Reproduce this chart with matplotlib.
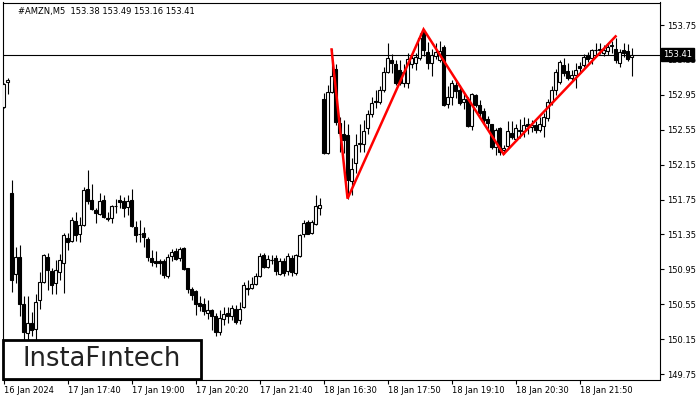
import matplotlib
matplotlib.use("Agg")
import matplotlib.pyplot as plt
from matplotlib.patches import Rectangle
import numpy as np

# OHLC of the 5 minute bars (bar index = position)
opens = [152.81, 153.10, 151.82, 150.90, 151.09, 150.55, 150.22, 150.34, 150.27, 150.60,
         150.80, 151.09, 150.93, 150.79, 150.92, 151.02, 151.31, 151.27, 151.50, 151.36,
         151.46, 151.87, 151.75, 151.63, 151.58, 151.74, 151.53, 151.54, 151.67, 151.74,
         151.73, 151.66, 151.74, 151.43, 151.36, 151.37, 151.30, 151.08, 151.05, 151.04,
         151.04, 150.87, 151.10, 151.16, 151.08, 151.19, 150.96, 150.72, 150.70, 150.56,
         150.55, 150.45, 150.48, 150.41, 150.23, 150.38, 150.45, 150.42, 150.50, 150.37,
         150.52, 150.74, 150.74, 150.78, 150.87, 151.11, 150.98, 151.06, 151.08, 150.90,
         151.04, 150.93, 151.08, 150.91, 151.10, 151.35, 151.49, 151.37, 151.47, 151.65,
         152.90, 152.28, 152.98, 153.25, 152.63, 152.50, 152.49, 151.96, 152.17, 152.39,
         152.39, 152.57, 152.73, 152.87, 152.87, 153.00, 153.21, 153.35, 153.30, 153.23,
         153.08, 153.08, 153.30, 153.32, 153.37, 153.67, 153.44, 153.31, 153.40, 153.35,
         153.50, 152.84, 152.93, 153.06, 153.00, 152.87, 152.90, 152.59, 152.95, 152.83,
         152.76, 152.67, 152.61, 152.35, 152.57, 152.32, 152.36, 152.51, 152.44, 152.53,
         152.53, 152.61, 152.58, 152.60, 152.55, 152.59, 152.68, 152.87, 153.00, 153.10,
         153.29, 153.22, 153.14, 153.18, 153.28, 153.29, 153.41, 153.37, 153.46, 153.48,
         153.43, 153.45, 153.51, 153.48, 153.31, 153.46, 153.45, 153.38]
highs = [153.09, 153.14, 151.97, 151.20, 151.23, 150.64, 150.64, 150.46, 150.67, 150.92,
         151.12, 151.14, 150.96, 151.06, 151.13, 151.37, 151.37, 151.55, 151.61, 151.55,
         151.89, 152.09, 151.93, 151.65, 151.82, 151.80, 151.61, 151.69, 151.76, 151.80,
         151.78, 151.80, 151.87, 151.50, 151.51, 151.44, 151.32, 151.17, 151.16, 151.07,
         151.07, 151.12, 151.18, 151.19, 151.20, 151.20, 150.97, 150.75, 150.71, 150.64,
         150.62, 150.60, 150.50, 150.45, 150.48, 150.52, 150.52, 150.54, 150.54, 150.58,
         150.80, 150.83, 150.86, 150.91, 151.14, 151.14, 151.11, 151.11, 151.11, 151.08,
         151.08, 151.14, 151.11, 151.13, 151.35, 151.52, 151.52, 151.51, 151.80, 151.77,
         152.97, 153.06, 153.47, 153.30, 152.70, 152.66, 152.62, 152.23, 152.50, 152.62,
         152.66, 152.78, 152.92, 153.00, 153.05, 153.27, 153.54, 153.42, 153.35, 153.35,
         153.30, 153.43, 153.42, 153.43, 153.66, 153.70, 153.55, 153.48, 153.54, 153.57,
         153.52, 153.05, 153.12, 153.12, 153.06, 152.98, 152.93, 152.97, 152.96, 152.89,
         152.80, 152.71, 152.62, 152.57, 152.58, 152.38, 152.65, 152.65, 152.61, 152.67,
         152.69, 152.68, 152.66, 152.65, 152.69, 152.74, 152.90, 153.05, 153.25, 153.35,
         153.37, 153.31, 153.23, 153.31, 153.33, 153.42, 153.44, 153.48, 153.54, 153.54,
         153.52, 153.54, 153.57, 153.60, 153.48, 153.54, 153.53, 153.49]
lows = [152.80, 152.96, 150.69, 150.79, 150.41, 150.12, 150.14, 150.18, 150.14, 150.50,
        150.79, 150.71, 150.67, 150.67, 150.83, 150.68, 151.17, 151.26, 151.27, 151.26,
        151.45, 151.70, 151.63, 151.48, 151.57, 151.54, 151.50, 151.48, 151.59, 151.65,
        151.55, 151.57, 151.44, 151.26, 151.26, 151.21, 151.04, 150.99, 150.98, 150.90,
        150.85, 150.85, 151.04, 151.06, 151.05, 150.94, 150.68, 150.60, 150.43, 150.47,
        150.43, 150.38, 150.25, 150.18, 150.20, 150.31, 150.33, 150.37, 150.32, 150.32,
        150.51, 150.66, 150.73, 150.77, 150.86, 150.97, 150.96, 151.01, 150.88, 150.88,
        150.87, 150.88, 150.87, 150.88, 151.09, 151.32, 151.35, 151.36, 151.46, 151.57,
        152.27, 152.27, 152.97, 152.60, 152.30, 152.28, 151.76, 151.80, 152.05, 152.30,
        152.30, 152.50, 152.70, 152.80, 152.85, 152.98, 153.20, 153.20, 153.06, 153.06,
        153.04, 153.03, 153.26, 153.23, 153.35, 153.40, 153.25, 153.17, 153.36, 153.33,
        152.82, 152.80, 152.83, 152.91, 152.83, 152.79, 152.58, 152.55, 152.81, 152.70,
        152.62, 152.56, 152.33, 152.26, 152.26, 152.27, 152.34, 152.44, 152.42, 152.45,
        152.47, 152.50, 152.52, 152.51, 152.52, 152.47, 152.65, 152.83, 152.95, 153.07,
        153.17, 153.12, 153.12, 153.03, 153.20, 153.27, 153.33, 153.30, 153.41, 153.42,
        153.40, 153.41, 153.43, 153.31, 153.27, 153.38, 153.34, 153.16]
closes = [153.07, 153.12, 150.83, 151.09, 150.55, 150.23, 150.34, 150.26, 150.57, 150.80,
          151.11, 150.94, 150.77, 150.94, 151.06, 151.34, 151.26, 151.51, 151.34, 151.46,
          151.86, 151.73, 151.64, 151.59, 151.73, 151.55, 151.54, 151.67, 151.68, 151.72,
          151.65, 151.73, 151.45, 151.34, 151.35, 151.32, 151.09, 151.03, 151.02, 151.02,
          150.88, 151.09, 151.15, 151.07, 151.18, 150.95, 150.73, 150.66, 150.55, 150.53,
          150.47, 150.48, 150.41, 150.23, 150.39, 150.44, 150.41, 150.51, 150.35, 150.50,
          150.77, 150.72, 150.78, 150.87, 151.10, 150.98, 151.07, 151.06, 150.93, 151.05,
          150.91, 151.10, 150.92, 151.11, 151.34, 151.48, 151.36, 151.49, 151.67, 151.69,
          152.28, 152.98, 153.16, 152.64, 152.51, 152.43, 151.97, 152.10, 152.38, 152.40,
          152.53, 152.73, 152.86, 152.88, 153.01, 153.21, 153.37, 153.31, 153.08, 153.08,
          153.21, 153.36, 153.37, 153.38, 153.60, 153.46, 153.31, 153.41, 153.44, 153.45,
          152.83, 152.92, 153.08, 152.99, 152.86, 152.90, 152.59, 152.96, 152.83, 152.74,
          152.66, 152.63, 152.35, 152.55, 152.30, 152.34, 152.53, 152.47, 152.57, 152.55,
          152.60, 152.59, 152.60, 152.55, 152.62, 152.70, 152.87, 153.00, 153.21, 153.33,
          153.20, 153.14, 153.18, 153.24, 153.26, 153.38, 153.36, 153.46, 153.46, 153.46,
          153.46, 153.50, 153.52, 153.35, 153.44, 153.43, 153.36, 153.41]

# red pattern drawn over the candles
pattern_bars = [82, 86, 105, 125, 153]
pattern_prices = [153.47, 151.76, 153.70, 152.27, 153.62]

last_price = 153.41
xtick_bars = [0, 16, 32, 48, 64, 80, 96, 112, 128, 144]
xtick_labels = ["16 Jan 2024", "17 Jan 17:40", "17 Jan 19:00", "17 Jan 20:20", "17 Jan 21:40",
                "18 Jan 16:30", "18 Jan 17:50", "18 Jan 19:10", "18 Jan 20:30", "18 Jan 21:50"]
ytick_values = [149.75, 150.15, 150.55, 150.95, 151.35, 151.75, 152.15, 152.55, 152.95, 153.35, 153.75]

o = np.array(opens); h = np.array(highs); l = np.array(lows); c = np.array(closes)
idx = np.arange(len(o))

fig = plt.figure(figsize=(7, 4), dpi=100)
ax = fig.add_axes([2.5/700, 20.5/400, 657.5/700, 377/400])

# wicks
ax.vlines(idx, l, h, color="black", lw=0.8, zorder=2)
# bodies
w = 0.55
up = c >= o
bottoms = np.minimum(o, c)
heights = np.abs(c - o)
ax.bar(idx[up], heights[up], w, bottom=bottoms[up], facecolor="white", edgecolor="black", lw=0.8, zorder=3)
ax.bar(idx[~up], heights[~up], w, bottom=bottoms[~up], facecolor="black", edgecolor="black", lw=0.8, zorder=3)
# doji
flat = heights < 0.01
ax.hlines(c[flat], idx[flat] - w/2, idx[flat] + w/2, color="black", lw=0.8, zorder=3)

ax.plot(pattern_bars, pattern_prices, color="#ff0000", lw=1.8, zorder=4, solid_joinstyle="miter")
ax.axhline(last_price, color="black", lw=0.8, zorder=1)

ax.set_xlim(-0.25, 164.1)
ax.set_ylim(149.687, 154.008)

ax.yaxis.tick_right()
ax.set_yticks(ytick_values)
ax.set_yticklabels(["%.2f" % v for v in ytick_values])
ax.set_xticks(xtick_bars)
ax.set_xticklabels(xtick_labels, ha="left")
ax.tick_params(axis="both", direction="out", length=3, width=0.8, labelsize=6, colors="black", pad=2)
for sp in ax.spines.values():
    sp.set_linewidth(0.8)

ax.text(0.023, 0.975, "#AMZN,M5  153.38 153.49 153.16 153.41", transform=ax.transAxes,
        fontsize=6, va="center", ha="left")

# last price box on the right axis
ax.text(1.004, (last_price - 149.687) / (154.008 - 149.687), "%.2f" % last_price, transform=ax.transAxes,
        fontsize=6, color="white", va="center", ha="left", zorder=10, clip_on=False,
        bbox=dict(boxstyle="square,pad=0.25", facecolor="black", edgecolor="black"))

# logo
fig.patches.append(Rectangle((3/700, 21/400), 198/700, 39/400, transform=fig.transFigure,
                             facecolor="white", edgecolor="black", lw=2, zorder=20))
fig.text(102/700, 40.5/400, "InstaF\u0131ntech", fontsize=18.5, color="#222222",
         ha="center", va="center", zorder=21)

fig.savefig("out.png", dpi=100)
